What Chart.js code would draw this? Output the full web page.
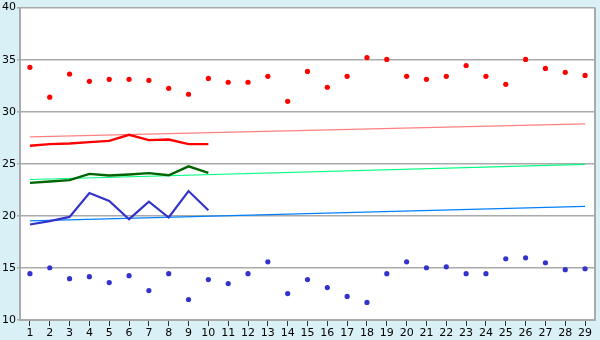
<!DOCTYPE html>
<html><head><meta charset="utf-8">
<script src="https://cdn.jsdelivr.net/npm/chart.js@4/dist/chart.umd.min.js"></script>
<style>html,body{margin:0;padding:0;background:#d9f0f7}#wrap{width:600px;height:340px}</style>
</head><body><div id="wrap"><canvas id="c" width="600" height="340"></canvas></div>
<script>
const categories = ['1','2','3','4','5','6','7','8','9','10','11','12','13','14','15','16','17','18','19','20','21','22','23','24','25','26','27','28','29'];
const highPoints = [34.26,31.4,33.62,32.92,33.11,33.11,33.02,32.25,31.68,33.2,32.83,32.83,33.4,31.0,33.87,32.35,33.4,35.2,35.02,33.4,33.11,33.4,34.44,33.4,32.63,35.02,34.16,33.78,33.49];
const lowPoints = [14.45,15.02,13.97,14.16,13.59,14.26,12.83,14.45,11.97,13.88,13.5,14.45,15.59,12.54,13.88,13.11,12.26,11.69,14.45,15.59,15.02,15.11,14.45,14.45,15.88,15.97,15.5,14.83,14.92];
const redLine = [26.73,26.89,26.95,27.08,27.2,27.78,27.27,27.33,26.89,26.89];
const greenLine = [23.17,23.3,23.43,24.03,23.87,23.97,24.1,23.9,24.76,24.13];
const blueLine = [19.17,19.49,19.9,22.19,21.43,19.68,21.36,19.84,22.38,20.54];
const redTrend = [{x:'1', y:27.59},{x:'29', y:28.83}];
const greenTrend = [{x:'1', y:23.49},{x:'29', y:24.95}];
const blueTrend = [{x:'1', y:19.52},{x:'29', y:20.92}];
const yTicks = [10,15,20,25,30,35,40];

const bgPlugin = {
  id:'bg',
  beforeDraw(chart){
    const {ctx, chartArea:a} = chart;
    ctx.save();
    ctx.fillStyle='#d9f0f7';
    ctx.fillRect(0,0,chart.width,chart.height);
    ctx.fillStyle='#ffffff';
    ctx.fillRect(a.left,a.top,a.right-a.left,a.bottom-a.top);
    ctx.restore();
  },
  afterDraw(chart){
    const {ctx, chartArea:a} = chart;
    ctx.save();
    ctx.strokeStyle='#aaaaaa';
    ctx.lineWidth=2;
    ctx.beginPath();
    ctx.moveTo(a.right, a.top); ctx.lineTo(a.right, a.bottom);
    ctx.stroke();
    ctx.restore();
  }
};

const thin = {pointRadius:0, borderWidth:1.2, fill:false, tension:0, order:2};
new Chart(document.getElementById('c'), {
  type:'line',
  data:{
    labels:categories,
    datasets:[
      {data:redTrend, borderColor:'#ff8080', ...thin},
      {data:greenTrend, borderColor:'#00ff80', ...thin},
      {data:blueTrend, borderColor:'#0080ff', ...thin},
      {data:redLine, borderColor:'#ff0000', borderWidth:2.4, pointRadius:0, tension:0, order:1},
      {data:greenLine, borderColor:'#006400', borderWidth:2.4, pointRadius:0, tension:0, order:1},
      {data:blueLine, borderColor:'#3333cc', borderWidth:2.2, pointRadius:0, tension:0, order:1},
      {data:highPoints, showLine:false, pointStyle:'circle', pointRadius:2.6, pointBorderWidth:0, backgroundColor:'#ff0000', borderColor:'#ff0000', order:0},
      {data:lowPoints, showLine:false, pointStyle:'circle', pointRadius:2.6, pointBorderWidth:0, backgroundColor:'#3333cc', borderColor:'#3333cc', order:0}
    ]
  },
  options:{
    responsive:false, animation:false,
    layout:{padding:{left:0, right:5, top:5, bottom:0}},
    plugins:{legend:{display:false}, tooltip:{enabled:false}},
    scales:{
      x:{
        type:'category', offset:true,
        grid:{drawOnChartArea:false, drawTicks:true, tickLength:6, color:'#333333', offset:false},
        border:{color:'#aaaaaa', width:2},
        ticks:{color:'#000', font:{family:'DejaVu Sans', size:11}, padding:1, maxRotation:0, autoSkip:false},
        afterFit(s){ s.height = 20; }
      },
      y:{
        min:10, max:40,
        afterBuildTicks(s){ s.ticks = yTicks.map(v=>({value:v})); },
        grid:{color:'#aaaaaa', lineWidth:1.5, tickLength:3},
        border:{color:'#aaaaaa', width:2},
        ticks:{color:'#000', font:{family:'DejaVu Sans', size:11}, padding:1},
        afterFit(s){ s.width = 20; }
      }
    }
  },
  plugins:[bgPlugin]
});
</script>
</body></html>
